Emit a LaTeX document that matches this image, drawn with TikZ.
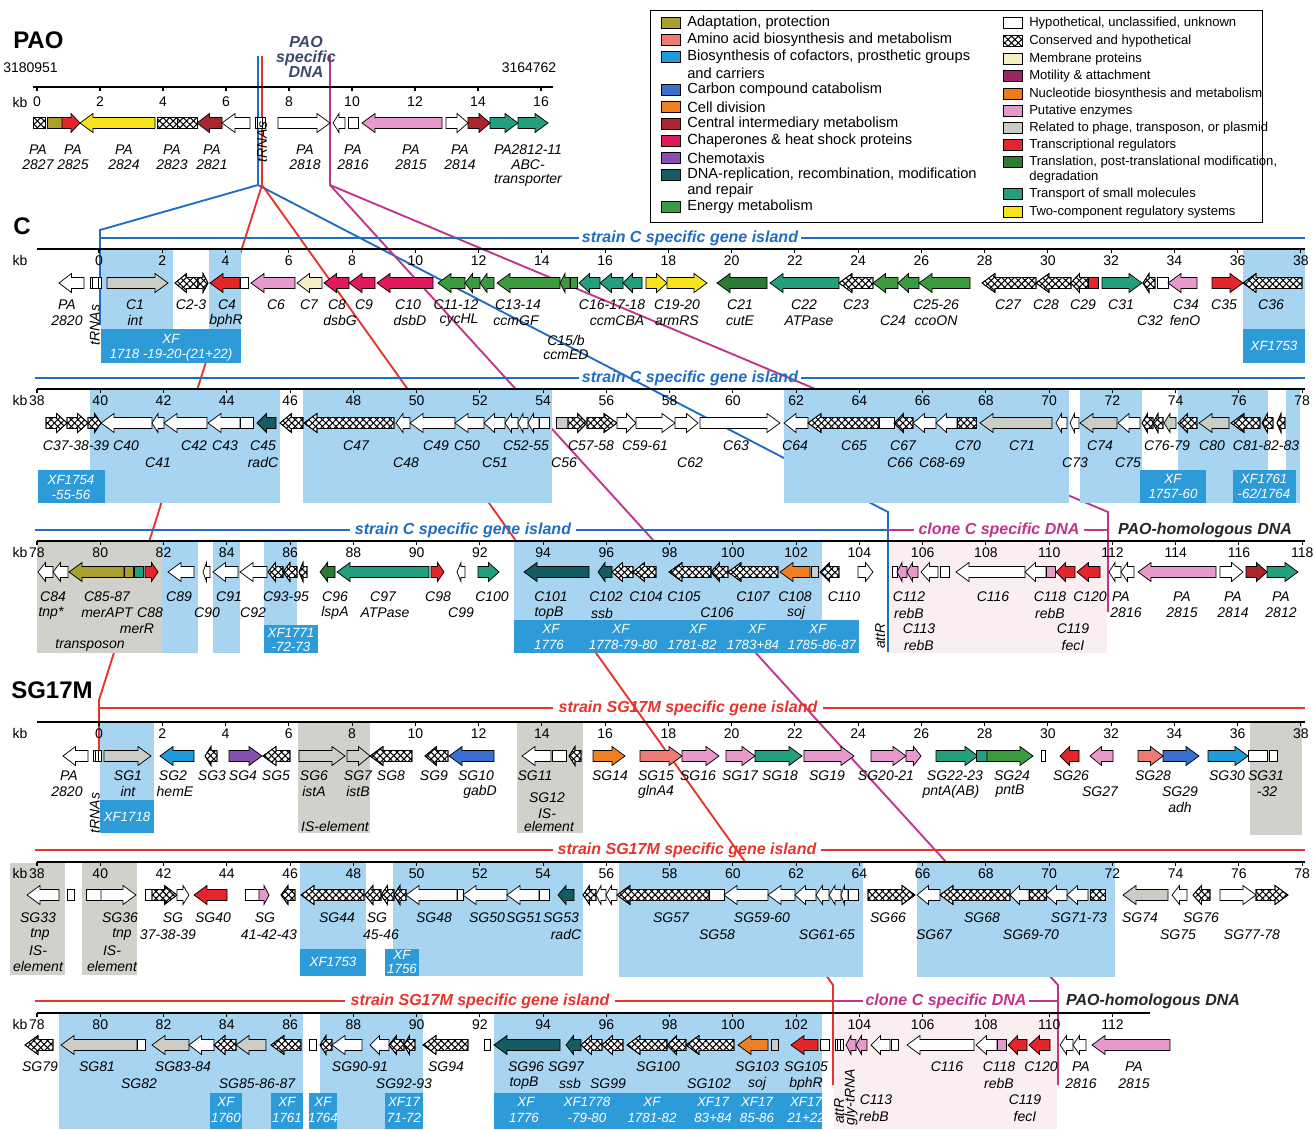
\documentclass[tikz,border=0pt]{standalone}
\usepackage{fontspec}
\setmainfont{Liberation Sans}
\usetikzlibrary{patterns.meta}
\definecolor{cAdap}{HTML}{A8A02C}
\definecolor{cAmino}{HTML}{EE7B73}
\definecolor{cCofac}{HTML}{1F9BDA}
\definecolor{cCarbon}{HTML}{3A6ECF}
\definecolor{cCell}{HTML}{F07F22}
\definecolor{cCentral}{HTML}{A9262C}
\definecolor{cChap}{HTML}{E01A5C}
\definecolor{cChemo}{HTML}{8650B2}
\definecolor{cDNA}{HTML}{125C62}
\definecolor{cEnergy}{HTML}{3C9B3F}
\definecolor{cMemb}{HTML}{F7EDC4}
\definecolor{cMotil}{HTML}{9A2464}
\definecolor{cNucl}{HTML}{F07A1E}
\definecolor{cPut}{HTML}{E899CB}
\definecolor{cPhage}{HTML}{CBCCC6}
\definecolor{cTranscr}{HTML}{E3262C}
\definecolor{cTransl}{HTML}{2C7B34}
\definecolor{cTransp}{HTML}{23A07B}
\definecolor{cTwo}{HTML}{F6E31C}
\definecolor{shBlue}{HTML}{A6D4F1}
\definecolor{xfBlue}{HTML}{2D9BD8}
\definecolor{shGray}{HTML}{D0D1CB}
\definecolor{shPink}{HTML}{FBEEF1}
\definecolor{lnBlue}{HTML}{1F6DC6}
\definecolor{lnRed}{HTML}{E8332B}
\definecolor{lnMag}{HTML}{C2338A}
\definecolor{paoTxt}{HTML}{3B4A6B}
\tikzset{
 gene/.style={draw=black,line width=0.55pt,line join=miter},
 hyp/.style={fill=white},
 ch/.style={fill=white,
   postaction={pattern={Lines[angle=45,distance=3.6pt,line width=0.8pt]}},
   postaction={pattern={Lines[angle=-45,distance=3.6pt,line width=0.8pt]}},
   postaction={draw=black,line width=0.55pt}},
 adap/.style={fill=cAdap}, amino/.style={fill=cAmino}, cofac/.style={fill=cCofac},
 carbon/.style={fill=cCarbon}, celldiv/.style={fill=cCell}, central/.style={fill=cCentral},
 chap/.style={fill=cChap}, chemo/.style={fill=cChemo}, dna/.style={fill=cDNA},
 energy/.style={fill=cEnergy}, memb/.style={fill=cMemb}, motil/.style={fill=cMotil},
 nucl/.style={fill=cNucl}, put/.style={fill=cPut}, phage/.style={fill=cPhage},
 transcr/.style={fill=cTranscr}, transl/.style={fill=cTransl}, transp/.style={fill=cTransp},
 twoc/.style={fill=cTwo},
 gl/.style={font=\fontsize{10.5}{12}\selectfont\itshape,inner sep=0pt},
 tkl/.style={font=\fontsize{10.5}{12}\selectfont,inner sep=0pt},
 xft/.style={font=\fontsize{10}{12}\selectfont\itshape,text=white,inner sep=0pt},
 isl/.style={font=\fontsize{12}{14}\selectfont\bfseries\itshape,inner sep=0pt},
 ttl/.style={font=\fontsize{18}{20}\selectfont\bfseries,inner sep=0pt,anchor=west},
 lg/.style={font=\fontsize{11}{12}\selectfont,anchor=west,inner sep=0pt},
 lgr/.style={font=\fontsize{9.8}{12}\selectfont,anchor=west,inner sep=0pt},
 axl/.style={line width=1.6pt,black},
 tk/.style={line width=0.8pt,black},
 conn/.style={line width=1.4pt},
}
\newcounter{nn}
\newcommand\gn[4]{%
  \pgfmathsetmacro\hl{min(13,(#2-#1)*0.5)}%
  \if#3r%
    \path[gene,#4] (#1,{\ry-5.5}) -- ({#2-\hl},{\ry-5.5}) -- ({#2-\hl},{\ry-9.5}) -- (#2,\ry) -- ({#2-\hl},{\ry+9.5}) -- ({#2-\hl},{\ry+5.5}) -- (#1,{\ry+5.5}) -- cycle;%
  \else\if#3l%
    \path[gene,#4] (#2,{\ry-5.5}) -- ({#1+\hl},{\ry-5.5}) -- ({#1+\hl},{\ry-9.5}) -- (#1,\ry) -- ({#1+\hl},{\ry+9.5}) -- ({#1+\hl},{\ry+5.5}) -- (#2,{\ry+5.5}) -- cycle;%
  \else
    \path[gene,#4] (#1,{\ry-5.5}) rectangle (#2,{\ry+5.5});%
  \fi\fi}
\newcommand\trna[2]{%
  \path[gene,fill=white] (#1,{\ry-5.5}) rectangle (#2,{\ry+5.5});
  \draw[line width=1.1pt] ({#1+2.6},{\ry-5.5}) -- ({#1+2.6},{\ry+5.5});
  \draw[line width=1.1pt] ({#2-2.6},{\ry-5.5}) -- ({#2-2.6},{\ry+5.5});}
\newcommand\lb[3]{\stepcounter{nn}\node[gl] (n\arabic{nn}) at (#1,{\ly+(#2-1)*\ls}) {#3};}
\newcommand\xt[3]{\stepcounter{nn}\node[xft] (n\arabic{nn}) at (#1,#2) {#3};}
\newcommand\axisrow[6]{%
  \draw[axl] (#2,#1) -- (#3,#1);
  \foreach \k in {#6}{\pgfmathsetmacro\tx{#4+31.63*(\k-#5)}%
    \draw[tk] (\tx,#1) -- (\tx,{#1+4});%
    \stepcounter{nn}\node[tkl] (n\arabic{nn}) at (\tx,{#1+11.5}) {\k};}%
  \stepcounter{nn}\node[tkl] (n\arabic{nn}) at (20,{#1+11.5}) {kb};}
\newcommand\lgi[5]{\path[gene,#3] (#1,{#2-5.5}) rectangle ({#1+19},{#2+5.5});
  \stepcounter{nn}\node[#5] (n\arabic{nn}) at ({#1+26},#2) {#4};}
\newcommand\lgt[4]{\stepcounter{nn}\node[#4] (n\arabic{nn}) at (#1,#2) {#3};}
\begin{document}
\begin{tikzpicture}[x=0.75pt,y=-0.75pt]
\useasboundingbox (0,0) rectangle (1314,1129);
\fill[white] (0,0) rectangle (1314,1129);
% ---------- connector end points ----------
\coordinate (pB) at (258,56); \coordinate (pR) at (262,56); \coordinate (pM) at (330,56);
\coordinate (fB) at (258,185); \coordinate (fR) at (262,185); \coordinate (fM) at (330,185);
\coordinate (c0) at (100,230); \coordinate (c0b) at (100,325);
\coordinate (cE) at (888,512); \coordinate (cEb) at (888,652);
\coordinate (cM) at (1108,512); \coordinate (cMb) at (1108,612);
\coordinate (s0) at (99,700); \coordinate (s0b) at (99,762);
\coordinate (sE) at (833,985); \coordinate (sEb) at (833,1085);
\coordinate (sM) at (1058,985); \coordinate (sMb) at (1058,1085);
\draw[conn,lnBlue] (pB) -- (fB) -- (c0) -- (c0b);
\draw[conn,lnBlue] (fB) -- (cE) -- (cEb);
\draw[conn,lnRed] (pR) -- (fR) -- (s0) -- (s0b);
\draw[conn,lnRed] (fR) -- (sE) -- (sEb);
\draw[conn,lnMag] (pM) -- (fM) -- (cM) -- (cMb);
\draw[conn,lnMag] (fM) -- (sM) -- (sMb);
% ---------- shading ----------
\fill[shBlue] (101,250) rectangle (173,329);
\fill[shBlue] (209,250) rectangle (241,329);
\fill[shBlue] (1243,250) rectangle (1305,329);
\fill[xfBlue] (101,329) rectangle (241,363);
\fill[xfBlue] (1243,329) rectangle (1305,363);
\fill[shBlue] (90,390) rectangle (280,503);
\fill[shBlue] (303,390) rectangle (552,503);
\fill[shBlue] (784,390) rectangle (1069,503);
\fill[shBlue] (1080,390) rectangle (1142,503);
\fill[shBlue] (1178,390) rectangle (1268,503);
\fill[shBlue] (1286,390) rectangle (1300,503);
\fill[xfBlue] (38,470) rectangle (105,503);
\fill[xfBlue] (1140,470) rectangle (1206,503);
\fill[xfBlue] (1233,470) rectangle (1296,503);
\fill[shGray] (37,542) rectangle (162,653);
\fill[shBlue] (162,542) rectangle (198,653);
\fill[shBlue] (213,542) rectangle (240,653);
\fill[shBlue] (264,542) rectangle (297,625);
\fill[xfBlue] (264,625) rectangle (318,653);
\fill[shBlue] (514,542) rectangle (822,620);
\fill[xfBlue] (514,620) rectangle (859,653);
\fill[shPink] (890,542) rectangle (1107,653);
\fill[shBlue] (100,723) rectangle (154,800);
\fill[xfBlue] (100,800) rectangle (154,833);
\fill[shGray] (298,723) rectangle (370,833);
\fill[shGray] (517,723) rectangle (583,833);
\fill[shGray] (1250,723) rectangle (1302,835);
\fill[shGray] (10,863) rectangle (65,975);
\fill[shGray] (82,863) rectangle (137,975);
\fill[shBlue] (300,863) rectangle (366,949);
\fill[xfBlue] (300,949) rectangle (366,976);
\fill[shBlue] (393,863) rectangle (583,976);
\fill[xfBlue] (385,949) rectangle (419,976);
\fill[shBlue] (619,863) rectangle (863,977);
\fill[shBlue] (917,863) rectangle (1115,977);
\fill[shBlue] (59,1014) rectangle (303,1129);
\fill[shBlue] (320,1014) rectangle (423,1129);
\fill[shBlue] (494,1014) rectangle (822,1129);
\fill[shPink] (834,1014) rectangle (1057,1129);
\fill[xfBlue] (210,1093) rectangle (242,1129);
\fill[xfBlue] (271,1093) rectangle (303,1129);
\fill[xfBlue] (309,1093) rectangle (337,1129);
\fill[xfBlue] (385,1093) rectangle (423,1129);
\fill[xfBlue] (494,1093) rectangle (822,1129);
% ---------- titles ----------
\node[ttl] (tPAO) at (13,40) {PAO};
\node[ttl] (tC) at (13,226) {C};
\node[ttl] (tSG) at (11,690) {SG17M};
\node[isl,text=paoTxt,align=center,font=\fontsize{12}{11.3}\selectfont\bfseries\itshape] (tPS) at (306,57) {PAO\\specific\\DNA};
\node[tkl,anchor=west] (tN1) at (3,68) {3180951};
\node[tkl] (tN2) at (529,68) {3164762};
% ---------- PAO row ----------
\draw[axl] (33,87) -- (553,87);
\foreach \k in {0,2,...,16}{\pgfmathsetmacro\tx{37+31.5*\k}\draw[tk] (\tx,87) -- (\tx,91);
  \stepcounter{nn}\node[tkl] (n\arabic{nn}) at (\tx,102) {\k};}
\node[tkl] (kbP) at (20,102) {kb};
\def\ry{123}
\gn{33}{45}{n}{ch}
\gn{47}{62}{n}{adap}
\gn{62}{80}{r}{transcr}
\gn{80}{155}{l}{twoc}
\gn{157}{177}{n}{ch}
\gn{177}{197}{n}{ch}
\gn{197}{222}{l}{central}
\gn{222}{250}{l}{hyp}
\trna{255}{265}
\gn{278}{330}{r}{hyp}
\gn{333}{345}{l}{hyp}
\gn{348}{358}{n}{hyp}
\gn{362}{442}{l}{put}
\gn{446}{468}{r}{hyp}
\gn{468}{490}{r}{central}
\gn{490}{518}{r}{transp}
\gn{518}{548}{r}{transp}
\def\ly{150}\def\ls{15}
\lb{38}{1}{PA}\lb{38}{2}{2827}
\lb{73}{1}{PA}\lb{73}{2}{2825}
\lb{124}{1}{PA}\lb{124}{2}{2824}
\lb{172}{1}{PA}\lb{172}{2}{2823}
\lb{212}{1}{PA}\lb{212}{2}{2821}
\lb{305}{1}{PA}\lb{305}{2}{2818}
\lb{353}{1}{PA}\lb{353}{2}{2816}
\lb{411}{1}{PA}\lb{411}{2}{2815}
\lb{460}{1}{PA}\lb{460}{2}{2814}
\lb{528}{1}{PA2812-11}\lb{528}{2}{ABC-}\lb{528}{3}{transporter}
\node[gl,rotate=90] (trP) at (262,142) {tRNAs};
% ---------- C row 1 ----------
\draw[conn,lnBlue] (100,238) -- (579,238);
\draw[conn,lnBlue] (801,238) -- (1305,238);
\node[isl,text=lnBlue] (isC1) at (690,238) {strain C specific gene island};
\axisrow{249}{37}{1305}{99}{0}{0,2,...,38}
\def\ry{283}
\gn{59}{84}{l}{hyp}
\trna{90}{101}
\gn{107}{168}{r}{phage}
\gn{175}{198}{l}{ch}\gn{198}{208}{r}{ch}
\gn{210}{240}{l}{transcr}
\gn{240}{248}{n}{hyp}
\gn{251}{295}{l}{put}
\gn{297}{322}{l}{memb}
\gn{324}{349}{l}{chap}
\gn{349}{375}{l}{chap}
\gn{377}{433}{l}{chap}
\gn{438}{465}{l}{energy}\gn{465}{480}{l}{energy}\gn{480}{494}{l}{energy}
\gn{497}{560}{l}{energy}\gn{560}{570}{l}{energy}\gn{570}{577}{n}{energy}
\gn{579}{600}{l}{transp}\gn{600}{623}{l}{transp}\gn{623}{642}{l}{transp}
\gn{646}{667}{r}{twoc}\gn{667}{707}{r}{twoc}
\gn{717}{767}{l}{transl}
\gn{770}{839}{l}{transp}
\gn{839}{873}{l}{ch}
\gn{873}{898}{l}{energy}\gn{898}{919}{l}{energy}\gn{919}{970}{l}{energy}
\gn{982}{1036}{l}{ch}
\gn{1036}{1071}{l}{ch}
\gn{1071}{1088}{l}{ch}\gn{1088}{1098}{n}{transcr}
\gn{1102}{1142}{r}{transp}
\gn{1143}{1155}{l}{ch}\gn{1157}{1168}{n}{hyp}
\gn{1168}{1197}{l}{put}
\gn{1212}{1243}{r}{transcr}
\gn{1243}{1302}{l}{ch}
\def\ly{305}\def\ls{15.5}
\lb{67}{1}{PA}\lb{67}{2}{2820}
\lb{135}{1}{C1}\lb{135}{2}{int}
\lb{191}{1}{C2-3}
\lb{227}{1}{C4}\lb{226}{2}{bphR}
\lb{276}{1}{C6}
\lb{309}{1}{C7}
\lb{337}{1}{C8}\lb{340}{2}{dsbG}
\lb{364}{1}{C9}
\lb{408}{1}{C10}\lb{410}{2}{dsbD}
\lb{456}{1}{C11-12}\lb{459}{2}{cycHL}
\lb{518}{1}{C13-14}\lb{516}{2}{ccmGF}
\lb{566}{3.3}{C15/b}\lb{566}{4.2}{ccmED}
\lb{612}{1}{C16-17-18}\lb{617}{2}{ccmCBA}
\lb{677}{1}{C19-20}\lb{677}{2}{armRS}
\lb{740}{1}{C21}\lb{740}{2}{cutE}
\lb{804}{1}{C22}\lb{809}{2}{ATPase}
\lb{856}{1}{C23}
\lb{893}{2}{C24}
\lb{936}{1}{C25-26}\lb{936}{2}{ccoON}
\lb{1008}{1}{C27}
\lb{1046}{1}{C28}\lb{1083}{1}{C29}
\lb{1121}{1}{C31}
\lb{1150}{2}{C32}
\lb{1186}{1}{C34}\lb{1185}{2}{fenO}
\lb{1224}{1}{C35}
\lb{1271}{1}{C36}
\node[gl,rotate=90] (trC) at (95,325) {tRNAs};
\xt{171}{339}{XF}\xt{171}{355}{1718 -19-20-(21+22)}
\xt{1274}{346}{XF1753}
% ---------- C row 2 ----------
\draw[conn,lnBlue] (35,378) -- (579,378);
\draw[conn,lnBlue] (801,378) -- (1305,378);
\node[isl,text=lnBlue] (isC2) at (690,378) {strain C specific gene island};
\axisrow{389}{37}{1305}{37}{38}{38,40,...,78}
\def\ry{423}
\gn{46}{67}{r}{ch}\gn{67}{88}{r}{ch}\gn{88}{101}{r}{ch}
\gn{101}{152}{l}{hyp}
\gn{152}{164}{l}{hyp}
\gn{164}{207}{l}{hyp}
\gn{208}{240}{l}{hyp}\gn{240}{253}{n}{hyp}
\gn{257}{276}{l}{dna}
\gn{280}{303}{l}{ch}
\gn{304}{394}{l}{ch}
\gn{396}{410}{l}{hyp}
\gn{410}{455}{l}{hyp}
\gn{455}{484}{l}{hyp}
\gn{484}{505}{l}{hyp}
\gn{505}{518}{l}{hyp}\gn{518}{528}{l}{hyp}\gn{528}{539}{l}{hyp}\gn{539}{549}{n}{hyp}
\gn{556}{568}{n}{phage}
\gn{568}{587}{r}{ch}\gn{587}{617}{r}{ch}
\gn{617}{636}{r}{hyp}\gn{636}{675}{r}{hyp}\gn{675}{698}{r}{hyp}
\gn{700}{780}{r}{hyp}
\gn{784}{808}{l}{hyp}
\gn{808}{879}{l}{ch}
\gn{879}{894}{n}{hyp}
\gn{894}{913}{l}{ch}
\gn{913}{936}{l}{hyp}\gn{936}{957}{l}{hyp}
\gn{957}{976}{n}{ch}
\gn{980}{1052}{l}{phage}
\gn{1056}{1067}{l}{hyp}\gn{1070}{1079}{l}{hyp}
\gn{1080}{1117}{l}{phage}
\gn{1118}{1140}{l}{hyp}
\gn{1142}{1153}{l}{ch}\gn{1153}{1163}{l}{ch}\gn{1164}{1176}{l}{phage}\gn{1178}{1197}{l}{ch}
\gn{1199}{1229}{l}{phage}
\gn{1231}{1260}{l}{ch}\gn{1262}{1273}{l}{ch}\gn{1277}{1285}{l}{ch}
\def\ly{446}\def\ls{16.5}
\lb{76}{1}{C37-38-39}\lb{126}{1}{C40}\lb{158}{2}{C41}\lb{194}{1}{C42}\lb{225}{1}{C43}
\lb{263}{1}{C45}\lb{263}{2}{radC}\lb{356}{1}{C47}\lb{406}{2}{C48}\lb{436}{1}{C49}
\lb{467}{1}{C50}\lb{495}{2}{C51}\lb{526}{1}{C52-55}\lb{564}{2}{C56}\lb{591}{1}{C57-58}
\lb{645}{1}{C59-61}\lb{690}{2}{C62}\lb{736}{1}{C63}\lb{795}{1}{C64}\lb{854}{1}{C65}
\lb{900}{2}{C66}\lb{903}{1}{C67}\lb{942}{2}{C68-69}\lb{968}{1}{C70}\lb{1022}{1}{C71}
\lb{1075}{2}{C73}\lb{1100}{1}{C74}\lb{1128}{2}{C75}\lb{1167}{1}{C76-79}\lb{1212}{1}{C80}
\lb{1266}{1}{C81-82-83}
\xt{71}{480}{XF1754}\xt{71}{495}{-55-56}
\xt{1173}{479}{XF}\xt{1173}{494}{1757-60}
\xt{1264}{479}{XF1761}\xt{1264}{494}{-62/1764}
% ---------- C row 3 ----------
\draw[conn,lnBlue] (35,530) -- (350,530);
\draw[conn,lnBlue] (576,530) -- (888,530);
\node[isl,text=lnBlue] (isC3) at (463,530) {strain C specific gene island};
\draw[conn,lnMag] (888,530) -- (914,530);
\draw[conn,lnMag] (1084,530) -- (1108,530);
\node[isl,text=lnMag] (clC3) at (999,530) {clone C specific DNA};
\node[isl,text=black!85] (paC3) at (1205,530) {PAO-homologous DNA};
\axisrow{541}{37}{1305}{37}{78}{78,80,...,118}
\def\ry{572}
\gn{38}{53}{l}{hyp}\gn{53}{68}{l}{hyp}
\gn{69}{124}{l}{adap}\gn{124}{133}{n}{adap}
\gn{134}{143}{n}{transp}\gn{145}{158}{r}{transcr}
\gn{168}{194}{l}{hyp}
\gn{203}{210}{l}{hyp}
\gn{213}{238}{l}{hyp}
\gn{240}{267}{l}{hyp}
\gn{268}{283}{l}{ch}\gn{283}{297}{l}{ch}\gn{299}{307}{l}{ch}
\gn{320}{335}{l}{transl}
\gn{337}{429}{l}{transp}
\gn{431}{444}{r}{transcr}
\gn{457}{465}{l}{hyp}
\gn{478}{499}{r}{transp}
\gn{524}{589}{l}{dna}
\gn{598}{612}{l}{dna}
\gn{612}{633}{l}{ch}\gn{633}{656}{l}{ch}
\gn{669}{711}{l}{ch}\gn{711}{728}{l}{ch}\gn{728}{778}{l}{ch}
\gn{780}{810}{l}{celldiv}
\gn{811}{818}{n}{phage}
\gn{820}{839}{l}{ch}
\gn{858}{873}{r}{hyp}
\gn{892}{897}{n}{hyp}\gn{897}{907}{l}{put}\gn{907}{918}{l}{put}\gn{921}{938}{l}{hyp}\gn{940}{949}{n}{hyp}
\gn{956}{1025}{l}{hyp}
\gn{1025}{1046}{l}{hyp}\gn{1046}{1055}{n}{put}
\gn{1056}{1075}{l}{transcr}\gn{1077}{1100}{l}{transcr}
\gn{1109}{1121}{l}{hyp}\gn{1121}{1134}{l}{hyp}
\gn{1138}{1216}{l}{put}
\gn{1220}{1243}{r}{hyp}
\gn{1246}{1267}{r}{central}
\gn{1267}{1298}{r}{transp}
\def\ly{597}\def\ls{16}
\lb{53}{1}{C84}\lb{51}{2}{tnp*}\lb{107}{1}{C85-87}\lb{107}{2}{merAPT}\lb{150}{2}{C88}
\lb{137}{3}{merR}\lb{90}{4}{transposon}
\lb{179}{1}{C89}\lb{207}{2}{C90}\lb{229}{1}{C91}\lb{253}{2}{C92}\lb{286}{1}{C93-95}
\lb{335}{1}{C96}\lb{335}{2}{lspA}\lb{383}{1}{C97}\lb{385}{2}{ATPase}\lb{438}{1}{C98}
\lb{461}{2}{C99}\lb{492}{1}{C100}\lb{551}{1}{C101}\lb{549}{2}{topB}\lb{606}{1}{C102}
\lb{602}{2}{ssb}\lb{646}{1}{C104}\lb{684}{1}{C105}\lb{717}{2}{C106}\lb{753}{1}{C107}
\lb{795}{1}{C108}\lb{796}{2}{soj}\lb{844}{1}{C110}\lb{909}{1}{C112}\lb{909}{2}{rebB}
\lb{919}{3}{C113}\lb{919}{4}{rebB}\lb{993}{1}{C116}\lb{1050}{1}{C118}\lb{1050}{2}{rebB}
\lb{1073}{3}{C119}\lb{1073}{4}{fecI}\lb{1090}{1}{C120}\lb{1121}{1}{PA}\lb{1126}{2}{2816}
\lb{1182}{1}{PA}\lb{1182}{2}{2815}\lb{1233}{1}{PA}\lb{1233}{2}{2814}\lb{1281}{1}{PA}\lb{1281}{2}{2812}
\node[gl,rotate=90] (atC) at (880,636) {attR};
\xt{291}{633}{XF1771}\xt{291}{647}{-72-73}
\xt{551}{629}{XF}\xt{549}{645}{1776}
\xt{621}{629}{XF}\xt{623}{645}{1778-79-80}
\xt{698}{629}{XF}\xt{692}{645}{1781-82}
\xt{757}{629}{XF}\xt{753}{645}{1783+84}
\xt{818}{629}{XF}\xt{822}{645}{1785-86-87}
% ---------- SG row 1 ----------
\draw[conn,lnRed] (99,708) -- (553,708);
\draw[conn,lnRed] (823,708) -- (1305,708);
\node[isl,text=lnRed] (isS1) at (688,708) {strain SG17M specific gene island};
\axisrow{722}{37}{1305}{99}{0}{0,2,...,38}
\def\ry{756}
\gn{63}{88}{l}{hyp}
\trna{93}{101}
\gn{104}{151}{r}{phage}
\gn{160}{194}{l}{cofac}
\gn{205}{217}{l}{ch}
\gn{229}{262}{r}{chemo}
\gn{263}{290}{l}{ch}
\gn{299}{345}{r}{phage}
\gn{347}{370}{r}{phage}
\gn{370}{412}{l}{ch}
\gn{425}{448}{l}{ch}
\gn{449}{494}{l}{carbon}
\gn{522}{551}{l}{hyp}\gn{552}{566}{n}{hyp}\gn{569}{581}{l}{ch}
\gn{593}{625}{r}{celldiv}
\gn{640}{682}{r}{amino}
\gn{682}{719}{r}{put}
\gn{726}{755}{r}{put}
\gn{755}{802}{r}{transp}
\gn{804}{854}{r}{put}
\gn{871}{906}{r}{put}\gn{906}{921}{r}{put}
\gn{936}{978}{r}{transp}\gn{976}{987}{n}{transp}\gn{987}{1033}{r}{energy}
\gn{1041}{1045}{n}{hyp}
\gn{1060}{1079}{l}{transcr}
\gn{1090}{1113}{l}{put}
\gn{1138}{1163}{r}{amino}
\gn{1163}{1199}{r}{carbon}
\gn{1208}{1248}{r}{cofac}
\gn{1248}{1267}{n}{hyp}\gn{1269}{1277}{n}{hyp}
\def\ly{776}\def\ls{15.5}
\lb{69}{1}{PA}\lb{67}{2}{2820}\lb{128}{1}{SG1}\lb{128}{2}{int}\lb{173}{1}{SG2}\lb{175}{2}{hemE}
\lb{212}{1}{SG3}\lb{243}{1}{SG4}\lb{276}{1}{SG5}\lb{314}{1}{SG6}\lb{314}{2}{istA}
\lb{358}{1}{SG7}\lb{358}{2}{istB}\lb{391}{1}{SG8}\lb{434}{1}{SG9}\lb{476}{1}{SG10}\lb{480}{2}{gabD}
\lb{535}{1}{SG11}\lb{547}{2.42}{SG12}\lb{547}{3.4}{IS-}\lb{549}{4.25}{element}\lb{335}{4.25}{IS-element}
\lb{610}{1}{SG14}\lb{656}{1}{SG15}\lb{656}{2}{glnA4}\lb{698}{1}{SG16}\lb{740}{1}{SG17}
\lb{780}{1}{SG18}\lb{827}{1}{SG19}\lb{886}{1}{SG20-21}\lb{955}{1}{SG22-23}\lb{951}{2}{pntA(AB)}
\lb{1012}{1}{SG24}\lb{1010}{2}{pntB}\lb{1071}{1}{SG26}\lb{1100}{2}{SG27}\lb{1153}{1}{SG28}
\lb{1180}{2}{SG29}\lb{1180}{3}{adh}\lb{1227}{1}{SG30}\lb{1266}{1}{SG31}\lb{1267}{2}{-32}
\node[gl,rotate=90] (trS) at (95,813) {tRNAs};
\xt{127}{817}{XF1718}
% ---------- SG row 2 ----------
\draw[conn,lnRed] (35,850) -- (553,850);
\draw[conn,lnRed] (821,850) -- (1305,850);
\node[isl,text=lnRed] (isS2) at (687,850) {strain SG17M specific gene island};
\axisrow{862}{37}{1305}{37}{38}{38,40,...,78}
\def\ry{895}
\gn{27}{59}{l}{hyp}
\gn{67}{74}{n}{hyp}
\gn{86}{101}{n}{hyp}\gn{101}{136}{r}{hyp}
\gn{145}{152}{n}{hyp}\gn{152}{177}{r}{ch}\gn{177}{189}{r}{hyp}
\gn{194}{227}{l}{transcr}
\gn{245}{259}{n}{hyp}\gn{259}{269}{r}{put}
\gn{281}{295}{l}{ch}
\gn{301}{364}{l}{ch}
\gn{365}{381}{l}{ch}\gn{381}{394}{l}{ch}\gn{394}{406}{l}{ch}
\gn{406}{457}{l}{hyp}
\gn{457}{463}{n}{hyp}
\gn{463}{507}{l}{hyp}
\gn{507}{539}{l}{hyp}
\gn{539}{549}{n}{hyp}
\gn{558}{574}{l}{dna}
\gn{583}{596}{l}{ch}
\gn{596}{606}{l}{hyp}\gn{606}{617}{l}{hyp}
\gn{617}{709}{l}{ch}
\gn{709}{724}{n}{hyp}
\gn{724}{768}{l}{hyp}\gn{768}{795}{l}{hyp}
\gn{795}{816}{l}{hyp}\gn{816}{829}{l}{hyp}\gn{829}{841}{l}{hyp}\gn{841}{848}{l}{hyp}\gn{848}{858}{n}{hyp}
\gn{868}{915}{r}{ch}
\gn{917}{940}{l}{hyp}
\gn{940}{1010}{l}{ch}
\gn{1010}{1029}{l}{hyp}
\gn{1029}{1046}{n}{ch}
\gn{1046}{1067}{l}{hyp}
\gn{1067}{1088}{l}{hyp}
\gn{1090}{1105}{n}{ch}
\gn{1123}{1168}{l}{phage}
\gn{1172}{1187}{l}{hyp}
\gn{1193}{1210}{l}{ch}
\gn{1220}{1256}{r}{hyp}\gn{1256}{1288}{r}{ch}
\def\ly{918}\def\ls{16.3}
\lb{38}{1}{SG33}\lb{40}{2}{tnp}\lb{38}{3}{IS-}\lb{38}{4}{element}
\lb{120}{1}{SG36}\lb{122}{2}{tnp}\lb{112}{3}{IS-}\lb{112}{4}{element}
\lb{173}{1}{SG}\lb{168}{2}{37-38-39}\lb{213}{1}{SG40}\lb{265}{1}{SG}\lb{269}{2}{41-42-43}
\lb{337}{1}{SG44}\lb{377}{1}{SG}\lb{381}{2}{45-46}\lb{434}{1}{SG48}\lb{487}{1}{SG50}
\lb{524}{1}{SG51}\lb{561}{1}{SG53}\lb{566}{2}{radC}\lb{671}{1}{SG57}\lb{717}{2}{SG58}
\lb{762}{1}{SG59-60}\lb{827}{2}{SG61-65}\lb{888}{1}{SG66}\lb{934}{2}{SG67}\lb{982}{1}{SG68}
\lb{1031}{2}{SG69-70}\lb{1079}{1}{SG71-73}\lb{1140}{1}{SG74}\lb{1178}{2}{SG75}\lb{1201}{1}{SG76}
\lb{1252}{2}{SG77-78}
\xt{333}{962}{XF1753}
\xt{402}{955}{XF}\xt{402}{969}{1756}
% ---------- SG row 3 ----------
\draw[conn,lnRed] (35,1001) -- (345,1001);
\draw[conn,lnRed] (615,1001) -- (833,1001);
\node[isl,text=lnRed] (isS3) at (480,1001) {strain SG17M specific gene island};
\draw[conn,lnMag] (833,1001) -- (863,1001);
\draw[conn,lnMag] (1029,1001) -- (1058,1001);
\node[isl,text=lnMag] (clS3) at (946,1001) {clone C specific DNA};
\node[isl,text=black!85] (paS3) at (1153,1001) {PAO-homologous DNA};
\axisrow{1013}{37}{1150}{37}{78}{78,80,...,112}
\def\ry{1045}
\gn{25}{53}{l}{ch}
\gn{61}{137}{l}{phage}
\gn{137}{145}{n}{hyp}
\gn{152}{189}{l}{phage}
\gn{189}{214}{l}{hyp}
\gn{214}{236}{l}{ch}
\gn{236}{266}{l}{phage}
\gn{271}{301}{l}{ch}
\gn{309}{316}{n}{hyp}
\gn{320}{332}{l}{ch}
\gn{332}{362}{l}{hyp}
\gn{370}{389}{l}{hyp}
\gn{389}{404}{l}{ch}\gn{404}{415}{l}{ch}
\gn{423}{468}{l}{ch}
\gn{484}{490}{n}{hyp}
\gn{494}{560}{l}{dna}
\gn{566}{581}{l}{dna}
\gn{581}{602}{l}{ch}\gn{602}{623}{l}{ch}
\gn{627}{667}{l}{ch}\gn{667}{686}{l}{ch}\gn{686}{734}{l}{ch}
\gn{738}{768}{l}{celldiv}
\gn{771}{778}{n}{phage}
\gn{791}{818}{l}{transcr}
\gn{820}{829}{n}{hyp}
\trna{835}{843}
\gn{846}{856}{l}{put}\gn{856}{867}{l}{put}
\gn{871}{890}{l}{hyp}\gn{891}{898}{n}{hyp}
\gn{907}{974}{l}{hyp}
\gn{976}{997}{l}{hyp}
\gn{997}{1006}{n}{put}
\gn{1008}{1027}{l}{transcr}
\gn{1029}{1050}{l}{transcr}
\gn{1060}{1073}{l}{hyp}\gn{1073}{1086}{l}{hyp}
\gn{1092}{1170}{l}{put}
\def\ly{1067}\def\ls{16.5}
\lb{40}{1}{SG79}\lb{97}{1}{SG81}\lb{139}{2}{SG82}\lb{183}{1}{SG83-84}\lb{257}{2}{SG85-86-87}
\lb{360}{1}{SG90-91}\lb{404}{2}{SG92-93}\lb{446}{1}{SG94}\lb{526}{1}{SG96}\lb{524}{2}{topB}
\lb{566}{1}{SG97}\lb{570}{2}{ssb}\lb{608}{2}{SG99}\lb{658}{1}{SG100}\lb{709}{2}{SG102}
\lb{757}{1}{SG103}\lb{757}{2}{soj}\lb{806}{1}{SG105}\lb{806}{2}{bphR}
\lb{876}{3}{C113}\lb{874}{4}{rebB}\lb{947}{1}{C116}\lb{999}{1}{C118}\lb{999}{2}{rebB}
\lb{1025}{3}{C119}\lb{1025}{4}{fecI}\lb{1041}{1}{C120}\lb{1081}{1}{PA}\lb{1081}{2}{2816}
\lb{1134}{1}{PA}\lb{1134}{2}{2815}
\node[gl,rotate=90] (atS) at (839,1111) {attR};
\node[gl,rotate=90] (glS) at (851,1097) {gly-tRNA};
\xt{226}{1102}{XF}\xt{226}{1118}{1760}
\xt{287}{1102}{XF}\xt{287}{1118}{1761}
\xt{323}{1102}{XF}\xt{323}{1118}{1764}
\xt{404}{1102}{XF17}\xt{404}{1118}{71-72}
\xt{526}{1102}{XF}\xt{524}{1118}{1776}
\xt{587}{1102}{XF1778}\xt{587}{1118}{-79-80}
\xt{652}{1102}{XF}\xt{652}{1118}{1781-82}
\xt{713}{1102}{XF17}\xt{713}{1118}{83+84}
\xt{757}{1102}{XF17}\xt{757}{1118}{85-86}
\xt{806}{1102}{XF17}\xt{806}{1118}{21+22}
% ---------- legend ----------
\draw[line width=0.6pt] (650,10) rectangle (1262,222);
\lgi{661}{23}{adap}{Adaptation, protection}{lg}
\lgi{661}{40}{amino}{Amino acid biosynthesis and metabolism}{lg}
\lgi{661}{57}{cofac}{Biosynthesis of cofactors, prosthetic groups}{lg}
\lgt{687}{73}{and carriers}{lg}
\lgi{661}{90}{carbon}{Carbon compound catabolism}{lg}
\lgi{661}{107}{celldiv}{Cell division}{lg}
\lgi{661}{124}{central}{Central intermediary metabolism}{lg}
\lgi{661}{141}{chap}{Chaperones \& heat shock proteins}{lg}
\lgi{661}{158}{chemo}{Chemotaxis}{lg}
\lgi{661}{175}{dna}{DNA-replication, recombination, modification}{lg}
\lgt{687}{191}{and repair}{lg}
\lgi{661}{207}{energy}{Energy metabolism}{lg}
\lgi{1003}{23}{hyp}{Hypothetical, unclassified, unknown}{lgr}
\lgi{1003}{41}{ch}{Conserved and hypothetical}{lgr}
\lgi{1003}{59}{memb}{Membrane proteins}{lgr}
\lgi{1003}{76}{motil}{Motility \& attachment}{lgr}
\lgi{1003}{94}{nucl}{Nucleotide biosynthesis and metabolism}{lgr}
\lgi{1003}{111}{put}{Putative enzymes}{lgr}
\lgi{1003}{128}{phage}{Related to phage, transposon, or plasmid}{lgr}
\lgi{1003}{145}{transcr}{Transcriptional regulators}{lgr}
\lgi{1003}{162}{transl}{Translation, post-translational modification,}{lgr}
\lgt{1029}{177}{degradation}{lgr}
\lgi{1003}{194}{transp}{Transport of small molecules}{lgr}
\lgi{1003}{212}{twoc}{Two-component regulatory systems}{lgr}
\end{tikzpicture}
\end{document}
